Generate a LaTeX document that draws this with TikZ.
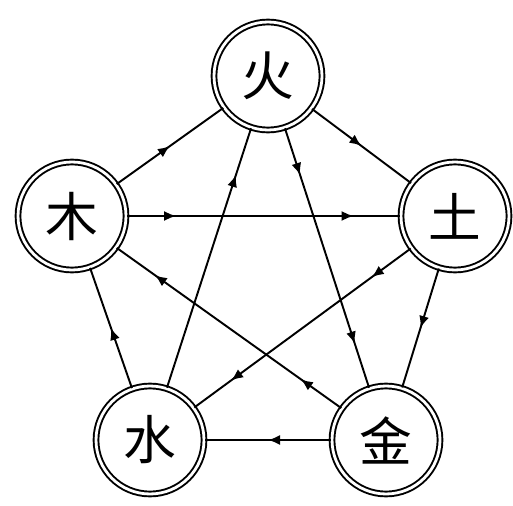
\documentclass[tikz,border=0pt]{standalone}
\usepackage{fontspec}
\newfontfamily\cjk{Noto Sans CJK SC}
\usepackage{tikz}
\usetikzlibrary {arrows.meta}
\usetikzlibrary{decorations.markings}
\tikzset{
  elem/.style={circle, draw, double, double distance=1.6pt, line width=1.1pt,
    minimum size=2.16cm, inner sep=0pt, font=\cjk\fontsize{30}{30}\selectfont},
  sheng/.style={line width=1.1pt, postaction=decorate,
    decoration={markings, mark=at position 0.5 with {\arrow{Latex[length=2.4mm,width=2mm]}}}},
  ke/.style={line width=1.1pt, postaction=decorate,
    decoration={markings,
      mark=at position 0.18 with {\arrow{Latex[length=2.4mm,width=2mm]}},
      mark=at position 0.83 with {\arrow{Latex[length=2.4mm,width=2mm]}}}},
  keone/.style={line width=1.1pt, postaction=decorate,
    decoration={markings, mark=at position 0.82 with {\arrow{Latex[length=2.4mm,width=2mm]}}}},
}
\begin{document}
\begin{tikzpicture}[x=0.02cm, y=-0.02cm]
\useasboundingbox (0,0) rectangle (513,506);
% the five elements
\node[elem] (huo) at (268,76) {火};
\node[elem] (mu) at (72,216) {木};
\node[elem] (tu) at (455,216) {土};
\node[elem] (shui) at (150,440) {水};
\node[elem] (jin) at (386,440) {金};
% generating cycle, outer ring
\draw[sheng] (mu) -- (huo);
\draw[sheng] (huo) -- (tu);
\draw[sheng] (tu) -- (jin);
\draw[sheng] (jin) -- (shui);
\draw[sheng] (shui) -- (mu);
% overcoming cycle, the star
\draw[ke] (mu) -- (tu);
\draw[ke] (tu) -- (shui);
\draw[keone] (shui) -- (huo);
\draw[ke] (huo) -- (jin);
\draw[ke] (jin) -- (mu);
\end{tikzpicture}
\end{document}
